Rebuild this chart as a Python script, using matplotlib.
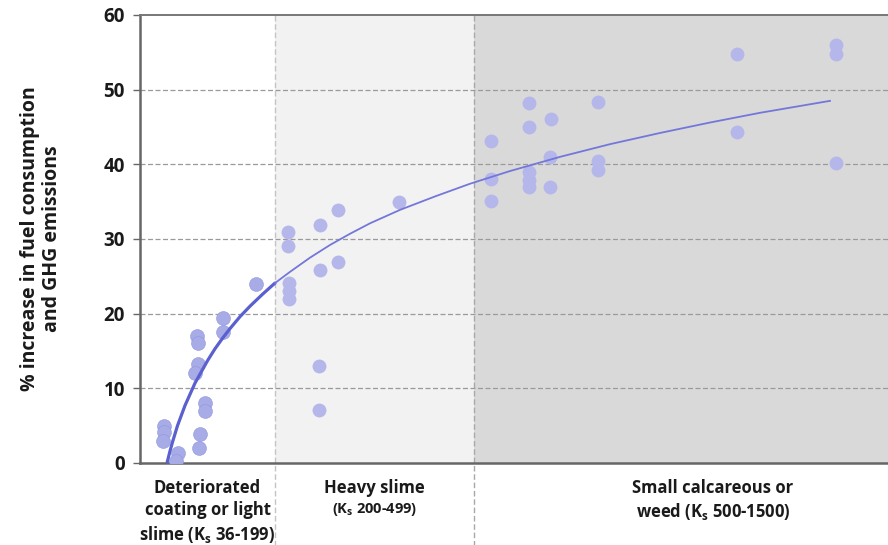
import matplotlib
matplotlib.use("Agg")
import matplotlib.pyplot as plt
import matplotlib.transforms as mtransforms
import numpy as np

plt.rcParams['font.family'] = ['Open Sans', 'DejaVu Sans']

# x is a position along the roughness scale (arbitrary units across the three bands);
# the last band runs on past the right edge of the axes
band_edges = [0.0, 13.5, 33.4, 81.2]
x_max = 74.8
band_colors = ['#ffffff', '#f2f2f2', '#d9d9d9']
band_labels = [
    "Deteriorated\ncoating or light\nslime (K$_\\mathregular{s}$ 36-199)",
    "Heavy slime",
    "Small calcareous or\nweed (K$_\\mathregular{s}$ 500-1500)",
]

# measured points, one list pair per band
light_x = [11.6, 8.3, 8.3, 5.7, 5.8, 5.8, 5.5, 6.5, 6.5, 6.0, 5.9, 2.4, 2.4, 2.3, 3.8, 3.6]
light_y = [24.0, 19.4, 17.6, 17.0, 16.1, 13.3, 12.1, 8.1, 7.0, 3.9, 2.0, 5.0, 4.1, 3.0, 1.4, 0.3]

heavy_x = [14.8, 14.8, 14.9, 14.9, 14.9, 18.0, 18.0, 17.9, 17.9, 19.8, 19.8, 25.9]
heavy_y = [30.9, 29.0, 24.1, 23.1, 21.9, 31.9, 25.9, 13.0, 7.1, 33.9, 26.9, 34.9]

weed_x = [35.1, 35.1, 35.1, 38.9, 38.9, 38.9, 38.9, 38.9, 41.1, 41.0, 41.0,
          45.8, 45.8, 45.8, 59.7, 59.7, 69.6, 69.6, 69.6]
weed_y = [43.1, 38.0, 35.1, 48.2, 45.0, 39.0, 37.9, 37.0, 46.1, 41.0, 37.0,
          48.3, 40.4, 39.2, 54.8, 44.3, 56.0, 54.8, 40.2]

# logarithmic trend line, read along its length
trend_x = [2.7, 2.85, 3.0, 3.25, 3.5, 3.75, 4.0, 4.5, 5.0, 5.5, 6.0, 6.75, 7.5,
           8.25, 9.0, 10.0, 11.0, 12.25, 13.5, 15.0, 17.0, 19.0, 21.0, 23.0,
           26.0, 29.5, 33.0, 37.0, 42.0, 47.0, 52.0, 57.0, 62.0, 65.5, 69.0]
trend_y = [0.0, 0.8, 1.6, 2.8, 3.9, 5.0, 5.9, 7.7, 9.2, 10.7, 11.9, 13.7, 15.3,
           16.7, 18.0, 19.6, 21.0, 22.6, 24.1, 25.6, 27.5, 29.2, 30.7, 32.1,
           33.9, 35.7, 37.4, 39.1, 41.0, 42.7, 44.2, 45.6, 46.9, 47.7, 48.5]

y_ticks = [0, 10, 20, 30, 40, 50, 60]

fig = plt.figure(figsize=(8.88, 5.45), dpi=100)
ax = fig.add_axes([140 / 888, 1 - 463 / 545, 748 / 888, 448 / 545])

for i in range(3):
    ax.axvspan(band_edges[i], band_edges[i + 1], color=band_colors[i], zorder=0, lw=0)

for yv in y_ticks[1:-1]:
    ax.axhline(yv, color='#9a9a9a', lw=0.9, ls=(0, (4, 2)), zorder=1)

# band dividers run down through the label area
trans = mtransforms.blended_transform_factory(ax.transData, ax.transAxes)
for xe, c in zip(band_edges[1:3], ['#c4c4c4', '#a8a8a8']):
    ax.plot([xe, xe], [-0.19, 1.0], transform=trans, color=c, lw=1.0,
            ls=(0, (4, 2)), clip_on=False, zorder=1)

ax.scatter(heavy_x, heavy_y, s=100, color='#b5b7ea', lw=0, zorder=3)
ax.scatter(weed_x, weed_y, s=100, color='#b5b7ea', lw=0, zorder=3)
ax.scatter(light_x, light_y, s=100, color='#a7abe6', edgecolors='#9095e0',
           linewidths=0.4, zorder=3)

tx = np.array(trend_x)
ty = np.array(trend_y)
split = trend_x.index(13.5) + 1
ax.plot(tx[:split], ty[:split], color='#5a60cf', lw=2.3, zorder=4,
        solid_capstyle='round', solid_joinstyle='round')
ax.plot(tx[split - 1:], ty[split - 1:], color='#7377d9', lw=1.3, zorder=4,
        solid_joinstyle='round')

ax.set_xlim(band_edges[0], x_max)
ax.set_ylim(0, 60)
ax.set_yticks(y_ticks)
ax.set_xticks([])
ax.tick_params(axis='y', length=5, width=1, color='#666666', pad=6,
               labelsize=13.5)
for lab in ax.get_yticklabels():
    lab.set_fontweight('bold')
    lab.set_color('#1a1a1a')

for side in ['left', 'bottom']:
    ax.spines[side].set_color('#666666')
    ax.spines[side].set_linewidth(1.8)
ax.spines['top'].set_color('#777777')
ax.spines['top'].set_linewidth(1.4)
ax.spines['right'].set_visible(False)

ax.set_ylabel('% increase in fuel consumption\nand GHG emissions',
              fontsize=14, fontweight='bold', color='#1a1a1a', labelpad=30,
              linespacing=1.1)

label_kw = dict(transform=trans, ha='center', va='top', fontsize=12,
                fontweight='bold', color='#1a1a1a', linespacing=1.3)
centers = [(band_edges[i] + band_edges[i + 1]) / 2 for i in range(3)]
ax.text(centers[0], -0.035, band_labels[0], **label_kw)
ax.text(centers[1], -0.035, band_labels[1], **label_kw)
ax.text(centers[1], -0.085, '(K$_\\mathregular{s}$ 200-499)', transform=trans,
        ha='center', va='top', fontsize=10.5, fontweight='bold', color='#1a1a1a')
ax.text(centers[2], -0.035, band_labels[2], **label_kw)

fig.savefig('out.png', dpi=100, facecolor='white')
